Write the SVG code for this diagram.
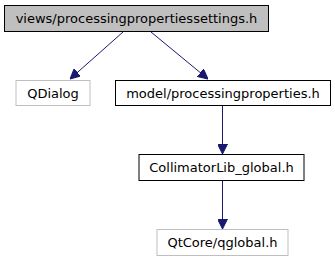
<svg xmlns="http://www.w3.org/2000/svg" width="335" height="261" viewBox="0 0 335 261">
  <style>
    .box { fill: #ffffff; stroke: #000000; stroke-width: 1; }
    .cur { fill: #bfbfbf; stroke: #000000; stroke-width: 1; }
    .ext { fill: #ffffff; stroke: #bfbfbf; stroke-width: 1; }
    .lbl { font-family: "DejaVu Sans", sans-serif; font-size: 13px; fill: #000000; text-anchor: middle; }
    .edge { fill: none; stroke: #191970; stroke-width: 1; }
  </style>
  <defs>
    <marker id="arrow" viewBox="0 0 10 10" refX="10" refY="5" markerWidth="10" markerHeight="10" markerUnits="userSpaceOnUse" orient="auto">
      <path d="M0,0 L10,5 L0,10 Z" fill="#191970" stroke="#191970"/>
    </marker>
  </defs>

  <g id="connectors">
    <path class="edge" d="M123,32 L70,79" marker-end="url(#arrow)"/>
    <path class="edge" d="M151,32 L208,79" marker-end="url(#arrow)"/>
    <path class="edge" d="M222.5,106 L222.5,154" marker-end="url(#arrow)"/>
    <path class="edge" d="M222.5,180.5 L222.5,229" marker-end="url(#arrow)"/>
  </g>

  <g id="node-settings">
    <rect class="cur" x="4.5" y="5.5" width="264" height="26"/>
    <text class="lbl" x="136.5" y="23">views/processingpropertiessettings.h</text>
  </g>

  <g id="node-qdialog">
    <rect class="ext" x="16" y="80.5" width="74" height="25"/>
    <text class="lbl" x="53" y="97.5">QDialog</text>
  </g>

  <g id="node-processingproperties">
    <rect class="box" x="115.5" y="80.5" width="215" height="25"/>
    <text class="lbl" x="223" y="97.5">model/processingproperties.h</text>
  </g>

  <g id="node-collimatorlib">
    <rect class="box" x="139" y="154.5" width="165" height="26"/>
    <text class="lbl" x="221.5" y="172">CollimatorLib_global.h</text>
  </g>

  <g id="node-qglobal">
    <rect class="ext" x="157" y="229.5" width="131" height="26"/>
    <text class="lbl" x="222.5" y="247">QtCore/qglobal.h</text>
  </g>
</svg>
